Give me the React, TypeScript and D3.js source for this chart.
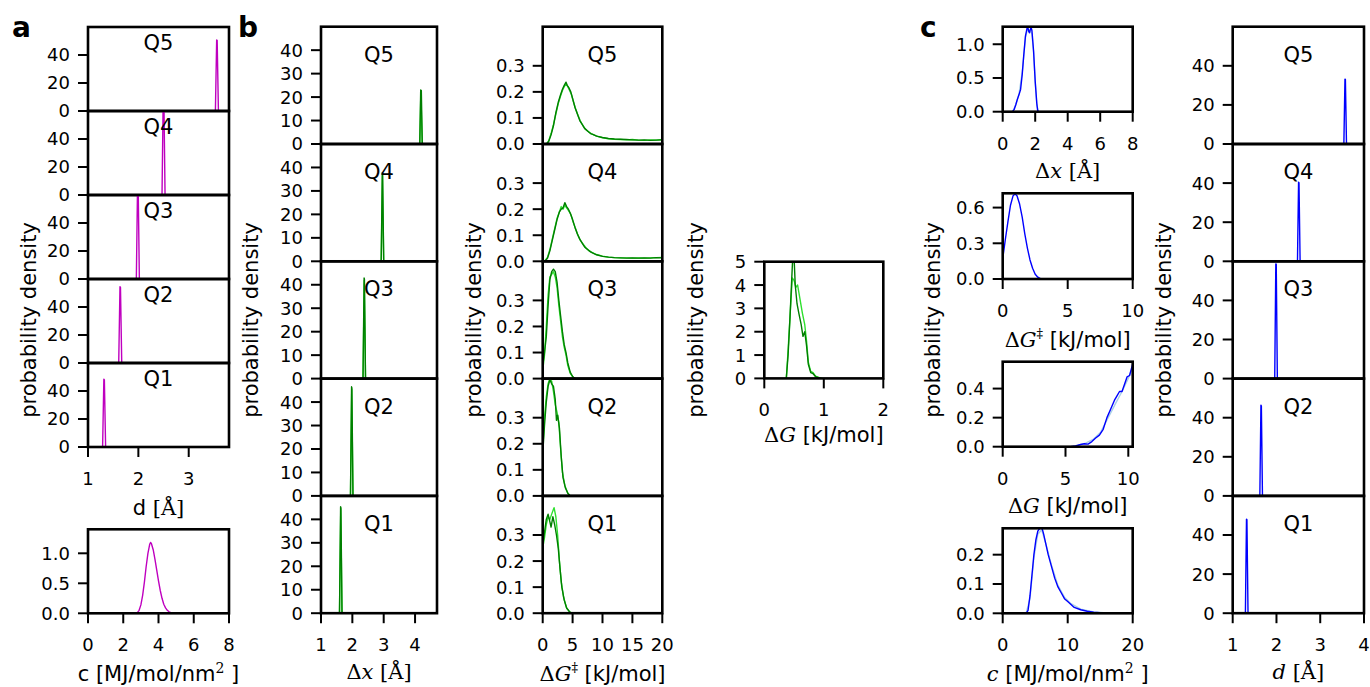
import React from 'react';
import * as d3 from 'd3';

type Pt = [number, number];

const FONT = 'DejaVu Sans, sans-serif';
const SERIF = 'DejaVu Serif, serif';

const MAGENTA = '#bf00bf';
const GREEN = '#007f00';
const LIME = '#2fe02f';
const BLUE = '#0000ff';
const LIGHTBLUE = '#a9cfe8';

const quintiles = ['Q5', 'Q4', 'Q3', 'Q2', 'Q1'];

// ---- panel a: bond length d per quintile (Q5 .. Q1) and force constant c
const aD: Pt[][] = [
  [[3.53, 0], [3.555, 50.7], [3.565, 50.5], [3.59, 0]],
  [[2.47, 0], [2.495, 75], [2.505, 75], [2.53, 0]],
  [[1.96, 0], [1.985, 70], [1.995, 70], [2.02, 0]],
  [[1.61, 0], [1.635, 54.5], [1.645, 54], [1.67, 0]],
  [[1.29, 0], [1.315, 48.5], [1.325, 48], [1.35, 0]],
];
const aC: Pt[] = [
  [2.7, 0], [2.8, 0.01], [2.9, 0.05], [3.0, 0.14], [3.1, 0.3], [3.2, 0.52], [3.3, 0.78], [3.4, 1.0],
  [3.5, 1.15], [3.55, 1.18], [3.6, 1.16], [3.7, 1.06], [3.8, 0.9], [3.9, 0.72], [4.0, 0.54], [4.1, 0.38],
  [4.2, 0.25], [4.3, 0.15], [4.4, 0.09], [4.5, 0.05], [4.6, 0.025], [4.7, 0.01], [4.8, 0.003], [4.9, 0],
];

// ---- panel b: Δx per quintile (dark / light runs)
const bDxDark: Pt[][] = [
  [[4.15, 0], [4.18, 23], [4.2, 22.8], [4.23, 0]],
  [[2.92, 0], [2.955, 37.7], [2.965, 37.5], [3.0, 0]],
  [[2.34, 0], [2.375, 42.9], [2.385, 42.5], [2.42, 0]],
  [[1.94, 0], [1.975, 46.5], [1.985, 46], [2.02, 0]],
  [[1.59, 0], [1.625, 45.4], [1.635, 45], [1.67, 0]],
];
const bDxLight: Pt[][] = [
  [[4.15, 0], [4.185, 22], [4.23, 0]],
  [[2.92, 0], [2.96, 36.5], [3.0, 0]],
  [[2.34, 0], [2.38, 41.8], [2.42, 0]],
  [[1.94, 0], [1.98, 45.5], [2.02, 0]],
  [[1.59, 0], [1.63, 44.5], [1.67, 0]],
];

// ---- panel b: ΔG‡ per quintile
const bDGbDark: Pt[][] = [
  [[0.7, 0], [1.0, 0.01], [1.4, 0.035], [1.8, 0.07], [2.2, 0.12], [2.6, 0.16], [3.0, 0.19], [3.3, 0.21],
    [3.6, 0.225], [3.9, 0.237], [4.1, 0.225], [4.4, 0.215], [4.7, 0.2], [5.0, 0.175], [5.4, 0.14],
    [5.8, 0.115], [6.2, 0.09], [6.6, 0.075], [7.0, 0.06], [7.5, 0.05], [8.0, 0.04], [8.5, 0.036],
    [9, 0.03], [10, 0.025], [11, 0.021], [12, 0.019], [13, 0.018], [14, 0.017], [15, 0.016], [16, 0.015],
    [17, 0.016], [18, 0.014], [19, 0.015], [20, 0.016]],
  [[0.4, 0], [0.8, 0.012], [1.2, 0.04], [1.6, 0.08], [2.0, 0.12], [2.4, 0.16], [2.8, 0.19], [3.1, 0.2],
    [3.4, 0.205], [3.7, 0.225], [4.0, 0.21], [4.3, 0.2], [4.6, 0.185], [5.0, 0.16], [5.4, 0.13],
    [5.8, 0.105], [6.2, 0.085], [6.6, 0.07], [7.0, 0.055], [7.5, 0.045], [8.0, 0.036], [8.5, 0.03],
    [9, 0.025], [10, 0.019], [11, 0.016], [12, 0.014], [13, 0.013], [14, 0.012], [15, 0.013], [16, 0.012],
    [17, 0.013], [18, 0.012], [19, 0.014], [20, 0.013]],
  [[0, 0.05], [0.3, 0.1], [0.6, 0.16], [0.9, 0.28], [1.2, 0.38], [1.5, 0.41], [1.8, 0.42], [2.1, 0.41],
    [2.4, 0.37], [2.7, 0.3], [3.0, 0.24], [3.3, 0.18], [3.6, 0.13], [3.9, 0.1], [4.2, 0.06], [4.6, 0.025],
    [5.0, 0.008], [5.4, 0]],
  [[0, 0.16], [0.3, 0.27], [0.6, 0.36], [0.9, 0.42], [1.2, 0.445], [1.5, 0.43], [1.8, 0.42], [2.1, 0.37],
    [2.3, 0.29], [2.5, 0.31], [2.8, 0.26], [3.1, 0.15], [3.4, 0.07], [3.8, 0.03], [4.2, 0.01], [4.6, 0]],
  [[0, 0.26], [0.3, 0.31], [0.6, 0.36], [0.9, 0.38], [1.2, 0.35], [1.4, 0.33], [1.7, 0.37], [2.0, 0.34],
    [2.3, 0.3], [2.6, 0.25], [2.9, 0.17], [3.2, 0.1], [3.6, 0.05], [4.0, 0.02], [4.5, 0.005], [4.8, 0]],
];
const bDGbLight: Pt[][] = [
  [[0.6, 0], [1.0, 0.012], [1.4, 0.04], [1.8, 0.075], [2.2, 0.115], [2.6, 0.155], [3.0, 0.185],
    [3.3, 0.205], [3.6, 0.22], [3.9, 0.23], [4.2, 0.22], [4.5, 0.205], [4.8, 0.19], [5.1, 0.165],
    [5.5, 0.135], [5.9, 0.11], [6.3, 0.088], [6.7, 0.072], [7.1, 0.058], [7.6, 0.048], [8.1, 0.04],
    [8.6, 0.034], [9.2, 0.029], [10, 0.024], [11, 0.02], [12, 0.018], [13, 0.017], [14, 0.016],
    [15, 0.017], [16, 0.015], [17, 0.014], [18, 0.016], [19, 0.015], [20, 0.017]],
  [[0.3, 0], [0.8, 0.015], [1.2, 0.045], [1.6, 0.085], [2.0, 0.125], [2.4, 0.165], [2.8, 0.19],
    [3.1, 0.21], [3.4, 0.2], [3.7, 0.215], [4.0, 0.205], [4.3, 0.195], [4.7, 0.18], [5.1, 0.15],
    [5.5, 0.125], [5.9, 0.1], [6.3, 0.08], [6.8, 0.065], [7.3, 0.05], [7.8, 0.04], [8.3, 0.033],
    [9, 0.026], [10, 0.02], [11, 0.016], [12, 0.014], [13, 0.013], [14, 0.013], [15, 0.012], [16, 0.013],
    [17, 0.012], [18, 0.013], [19, 0.014], [20, 0.015]],
  [[0, 0.03], [0.3, 0.09], [0.6, 0.2], [0.9, 0.32], [1.2, 0.39], [1.5, 0.4], [1.8, 0.41], [2.1, 0.39],
    [2.4, 0.35], [2.7, 0.28], [3.0, 0.22], [3.3, 0.16], [3.6, 0.12], [3.9, 0.09], [4.2, 0.05], [4.6, 0.02],
    [5.1, 0.005], [5.5, 0]],
  [[0, 0.17], [0.3, 0.3], [0.6, 0.38], [0.9, 0.43], [1.2, 0.45], [1.5, 0.44], [1.8, 0.4], [2.1, 0.35],
    [2.4, 0.32], [2.7, 0.28], [3.0, 0.18], [3.3, 0.09], [3.7, 0.04], [4.2, 0.01], [4.6, 0]],
  [[0, 0.25], [0.3, 0.29], [0.6, 0.34], [0.9, 0.37], [1.2, 0.36], [1.5, 0.38], [1.9, 0.405], [2.2, 0.37],
    [2.5, 0.3], [2.8, 0.2], [3.1, 0.12], [3.5, 0.06], [4.0, 0.02], [4.5, 0.005], [4.9, 0]],
];

// ---- panel b: ΔG
const bDGDark: Pt[] = [
  [0.37, 0], [0.4, 1.0], [0.43, 2.5], [0.46, 4.2], [0.48, 5.3], [0.5, 5.2], [0.52, 4.0], [0.55, 3.2],
  [0.58, 2.8], [0.62, 2.3], [0.65, 1.8], [0.68, 2.0], [0.71, 1.4], [0.74, 0.6], [0.78, 0.25], [0.82, 0.2],
  [0.86, 0.08], [0.9, 0.03], [0.95, 0],
];
const bDGLight: Pt[] = [
  [0.37, 0], [0.4, 1.2], [0.44, 3.0], [0.47, 4.3], [0.5, 4.2], [0.53, 3.9], [0.56, 4.0], [0.6, 3.4],
  [0.64, 2.8], [0.68, 2.3], [0.71, 1.6], [0.74, 0.7], [0.78, 0.3], [0.82, 0.25], [0.86, 0.1], [0.92, 0.04],
  [0.98, 0],
];

// ---- panel c: pooled distributions
const cDx: Pt[] = [
  [0.6, 0], [0.7, 0.03], [0.8, 0.1], [0.9, 0.18], [1.0, 0.25], [1.1, 0.33], [1.2, 0.55], [1.3, 0.85],
  [1.4, 1.12], [1.5, 1.24], [1.55, 1.25], [1.6, 1.19], [1.65, 1.17], [1.7, 1.22], [1.75, 1.25], [1.8, 1.2],
  [1.9, 0.9], [2.0, 0.45], [2.1, 0.12], [2.15, 0.02], [2.2, 0],
];
const cDxLight: Pt[] = [
  [0.6, 0], [0.8, 0.1], [1.0, 0.26], [1.2, 0.58], [1.4, 1.1], [1.5, 1.2], [1.6, 1.21], [1.7, 1.2],
  [1.8, 1.15], [1.9, 0.88], [2.0, 0.44], [2.1, 0.1], [2.2, 0],
];
const cDGb: Pt[] = [
  [0, 0.17], [0.2, 0.33], [0.4, 0.48], [0.6, 0.62], [0.8, 0.7], [0.95, 0.715], [1.1, 0.7], [1.3, 0.63],
  [1.5, 0.52], [1.7, 0.38], [1.9, 0.26], [2.1, 0.16], [2.3, 0.09], [2.5, 0.04], [2.7, 0.015], [2.9, 0.003],
  [3.0, 0],
];
const cDG: Pt[] = [
  [5.4, 0], [5.8, 0.005], [6.2, 0.015], [6.5, 0.02], [6.8, 0.018], [7.1, 0.035], [7.4, 0.06], [7.7, 0.08],
  [8.0, 0.12], [8.3, 0.2], [8.6, 0.26], [8.9, 0.32], [9.1, 0.35], [9.3, 0.38], [9.5, 0.38], [9.7, 0.43],
  [9.9, 0.48], [10.1, 0.49], [10.35, 0.57],
];
const cDGLight: Pt[] = [
  [5.4, 0], [6.0, 0.01], [6.6, 0.025], [7.2, 0.05], [7.8, 0.1], [8.4, 0.2], [9.0, 0.3], [9.5, 0.38],
  [10.0, 0.47], [10.35, 0.55],
];
const cC: Pt[] = [
  [3.6, 0], [3.9, 0.01], [4.2, 0.06], [4.5, 0.13], [4.8, 0.2], [5.1, 0.25], [5.4, 0.28], [5.7, 0.29],
  [6.0, 0.295], [6.3, 0.27], [6.6, 0.24], [7.0, 0.2], [7.5, 0.16], [8.0, 0.12], [8.5, 0.09], [9.0, 0.07],
  [9.5, 0.05], [10, 0.04], [10.5, 0.03], [11, 0.02], [12, 0.012], [13, 0.007], [14, 0.004], [15, 0.002],
  [16, 0.001], [17, 0],
];
const cCLight: Pt[] = [
  [3.6, 0], [4.2, 0.05], [4.8, 0.19], [5.4, 0.27], [6.0, 0.285], [6.6, 0.24], [7.5, 0.165], [8.5, 0.095],
  [9.5, 0.055], [10.5, 0.033], [12, 0.014], [14, 0.005], [16, 0.001], [17, 0],
];
const cD: Pt[][] = [
  [[3.54, 0], [3.565, 33.2], [3.575, 33], [3.6, 0]],
  [[2.48, 0], [2.505, 40.4], [2.515, 40.2], [2.54, 0]],
  [[1.96, 0], [1.985, 58.7], [1.995, 58.5], [2.02, 0]],
  [[1.62, 0], [1.645, 46.4], [1.655, 46], [1.68, 0]],
  [[1.29, 0], [1.315, 48.1], [1.325, 47.8], [1.35, 0]],
];

// ---- tick values
const ticksD = [1, 2, 3];
const ticksD4 = [1, 2, 3, 4];
const ticks0to8 = [0, 2, 4, 6, 8];
const ticksDGb = [0, 5, 10, 15, 20];
const ticks0to10 = [0, 5, 10];
const ticks0to20 = [0, 10, 20];
const ticks0to2 = [0, 1, 2];
const yTicksD = [0, 20, 40];
const yTicksDx = [0, 10, 20, 30, 40];
const yTicksDGb = [0, 0.1, 0.2, 0.3];
const yTicksDG = [0, 1, 2, 3, 4, 5];

interface Series { data: Pt[]; color: string; }
interface PanelSpec {
  id: string;
  left: number; top: number; width: number; height: number;
  xDomain: [number, number]; yDomain: [number, number];
  yTicks: number[]; yFmt: (v: number) => string;
  xTicks?: number[];
  series: Series[];
  q?: string; qDy?: number;
  xLabel?: React.ReactNode; xLabelDy?: number;
}

const f1 = d3.format('.1f');
const f0 = d3.format('d');

function Panel({ p }: { p: PanelSpec }) {
  const x = d3.scaleLinear().domain(p.xDomain).range([p.left, p.left + p.width]);
  const y = d3.scaleLinear().domain(p.yDomain).range([p.top + p.height, p.top]);
  const line = d3.line<Pt>().x(d => x(d[0])).y(d => y(d[1]));
  const cx = p.left + p.width / 2;
  const bottom = p.top + p.height;
  return (
    <g>
      <clipPath id={`clip-${p.id}`}>
        <rect x={p.left} y={p.top} width={p.width} height={p.height} />
      </clipPath>
      <g clipPath={`url(#clip-${p.id})`}>
        {p.series.map((s, i) => (
          <path key={i} d={line(s.data) || ''} fill="none" stroke={s.color} strokeWidth={1.4} strokeLinejoin="round" />
        ))}
      </g>
      <rect x={p.left} y={p.top} width={p.width} height={p.height} fill="none" stroke="#000" strokeWidth={2.6} />
      {p.yTicks.map(t => (
        <g key={'y' + t}>
          <line x1={p.left - 10} x2={p.left} y1={y(t)} y2={y(t)} stroke="#000" strokeWidth={2} />
          <text x={p.left - 18} y={y(t)} dy="0.36em" textAnchor="end" fontSize={18} fontFamily={FONT}>{p.yFmt(t)}</text>
        </g>
      ))}
      {p.xTicks && p.xTicks.map(t => (
        <g key={'x' + t}>
          <line x1={x(t)} x2={x(t)} y1={bottom} y2={bottom + 10} stroke="#000" strokeWidth={2} />
          <text x={x(t)} y={bottom + 38} textAnchor="middle" fontSize={18} fontFamily={FONT}>{f0(t)}</text>
        </g>
      ))}
      {p.q && (
        <text x={cx} y={p.top + (p.qDy ?? 35)} textAnchor="middle" fontSize={21} fontFamily={FONT}>{p.q}</text>
      )}
      {p.xLabel && (
        <text x={cx} y={bottom + (p.xLabelDy ?? 66)} textAnchor="middle" fontSize={21} fontFamily={FONT}>{p.xLabel}</text>
      )}
    </g>
  );
}

// x-axis labels
const labDa = <><tspan>d </tspan><tspan fontFamily={SERIF}>[Å]</tspan></>;
const labCa = <><tspan>c [MJ/mol/nm</tspan><tspan fontFamily={SERIF} fontSize={14} dy={-8}>2</tspan><tspan dy={8}> ]</tspan></>;
const labDx = <tspan fontFamily={SERIF}>Δ<tspan fontStyle="italic">x</tspan> [Å]</tspan>;
const labDGb = <><tspan fontFamily={SERIF}>Δ<tspan fontStyle="italic">G</tspan></tspan><tspan fontFamily={SERIF} fontSize={13} dy={-9}>‡</tspan><tspan dy={9}>  [kJ/mol]</tspan></>;
const labDG = <><tspan fontFamily={SERIF}>Δ<tspan fontStyle="italic">G</tspan></tspan><tspan> [kJ/mol]</tspan></>;
const labCc = <><tspan fontFamily={SERIF} fontStyle="italic">c</tspan><tspan> [MJ/mol/nm</tspan><tspan fontFamily={SERIF} fontSize={14} dy={-8}>2</tspan><tspan dy={8}> ]</tspan></>;
const labDc = <><tspan fontFamily={SERIF} fontStyle="italic">d</tspan><tspan fontFamily={SERIF}> [Å]</tspan></>;

function column(id: string, left: number, width: number, top: number, rowH: number,
  xDomain: [number, number], yDomain: [number, number], yTicks: number[], yFmt: (v: number) => string,
  xTicks: number[], rows: Series[][], qDy: number, xLabel: React.ReactNode, xLabelDy: number): PanelSpec[] {
  return rows.map((series, i) => ({
    id: `${id}${i}`, left, top: top + i * rowH, width, height: rowH, xDomain, yDomain, yTicks, yFmt,
    xTicks: i === rows.length - 1 ? xTicks : undefined,
    series, q: quintiles[i], qDy,
    xLabel: i === rows.length - 1 ? xLabel : undefined, xLabelDy,
  }));
}

const panels: PanelSpec[] = [
  ...column('ad', 88, 141, 27, 84, [1, 3.8], [0, 60], yTicksD, f0, ticksD,
    aD.map(d => [{ data: d, color: MAGENTA }]), 23, labDa, 68),
  {
    id: 'ac', left: 88, top: 529.3, width: 141, height: 84, xDomain: [0, 8], yDomain: [0, 1.4],
    yTicks: [0, 0.5, 1.0], yFmt: f1, xTicks: ticks0to8, series: [{ data: aC, color: MAGENTA }],
    xLabel: labCa, xLabelDy: 68,
  },
  ...column('bx', 321, 116, 26.7, 117.3, [1, 4.7], [0, 50], yTicksDx, f0, ticksD4.slice(0, 4),
    bDxDark.map((d, i) => [{ data: bDxLight[i], color: LIME }, { data: d, color: GREEN }]), 35, labDx, 66),
  ...column('bg', 542.7, 119.6, 26.7, 117.3, [0, 20], [0, 0.45], yTicksDGb, f1, ticksDGb,
    bDGbDark.map((d, i) => [{ data: bDGbLight[i], color: LIME }, { data: d, color: GREEN }]), 35, labDGb, 68),
  {
    id: 'bdg', left: 764.3, top: 261.7, width: 119, height: 116.7, xDomain: [0, 2], yDomain: [0, 5],
    yTicks: yTicksDG, yFmt: f0, xTicks: ticks0to2,
    series: [{ data: bDGLight, color: LIME }, { data: bDGDark, color: GREEN }], xLabel: labDG, xLabelDy: 64,
  },
  {
    id: 'c1', left: 1002.7, top: 26.7, width: 130, height: 85, xDomain: [0, 8], yDomain: [0, 1.26],
    yTicks: [0, 0.5, 1.0], yFmt: f1, xTicks: ticks0to8,
    series: [{ data: cDxLight, color: LIGHTBLUE }, { data: cDx, color: BLUE }], xLabel: labDx, xLabelDy: 66,
  },
  {
    id: 'c2', left: 1002.7, top: 193.3, width: 130, height: 85.7, xDomain: [0, 10], yDomain: [0, 0.72],
    yTicks: [0, 0.3, 0.6], yFmt: f1, xTicks: ticks0to10,
    series: [{ data: cDGb, color: BLUE }], xLabel: labDGb, xLabelDy: 68,
  },
  {
    id: 'c3', left: 1002.7, top: 361.7, width: 130, height: 85, xDomain: [0, 10.35], yDomain: [0, 0.585],
    yTicks: [0, 0.2, 0.4], yFmt: f1, xTicks: ticks0to10,
    series: [{ data: cDGLight, color: LIGHTBLUE }, { data: cDG, color: BLUE }], xLabel: labDG, xLabelDy: 66,
  },
  {
    id: 'c4', left: 1002.7, top: 528.3, width: 130, height: 85, xDomain: [0, 20], yDomain: [0, 0.29],
    yTicks: [0, 0.1, 0.2], yFmt: f1, xTicks: ticks0to20,
    series: [{ data: cCLight, color: LIGHTBLUE }, { data: cC, color: BLUE }], xLabel: labCc, xLabelDy: 68,
  },
  ...column('cd', 1232.7, 131.3, 26.7, 117.3, [1, 4], [0, 60], yTicksD, f0, ticksD4,
    cD.map(d => [{ data: d, color: BLUE }]), 35, labDc, 66),
];

const yLabels = [36, 258, 481, 703, 940, 1171];
const letters: [string, number][] = [['a', 12], ['b', 238], ['c', 920]];

export default function App() {
  return (
    <svg width={1370} height={687} style={{ position: 'absolute', left: 0, top: 0, background: '#fff' }}
      fontFamily={FONT}>
      <rect width={1370} height={687} fill="#fff" />
      {panels.map(p => <Panel key={p.id} p={p} />)}
      {yLabels.map(x => (
        <text key={x} transform={`translate(${x},320) rotate(-90)`} textAnchor="middle" fontSize={21}>
          probability density
        </text>
      ))}
      {letters.map(([t, x]) => (
        <text key={t} x={x} y={37} fontSize={28} fontWeight="bold">{t}</text>
      ))}
    </svg>
  );
}
